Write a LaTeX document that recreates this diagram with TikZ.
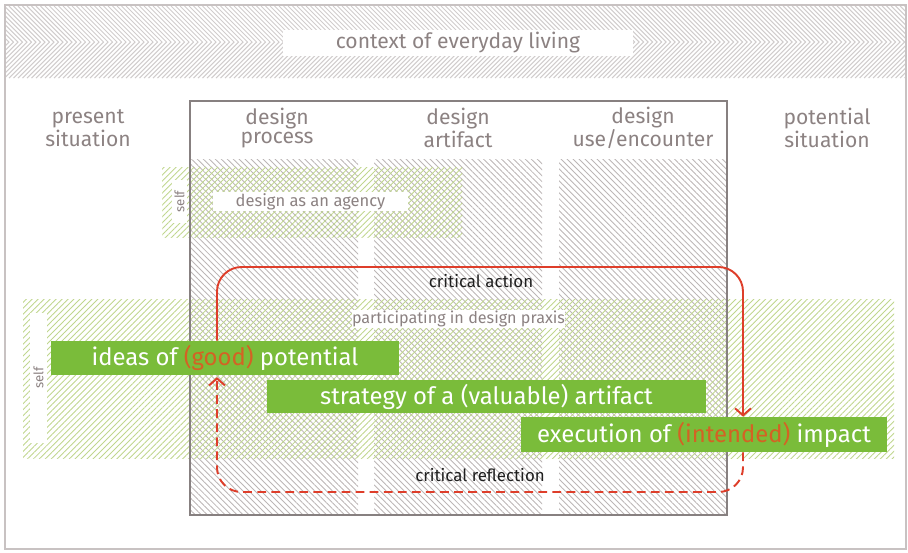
\documentclass[tikz,border=0pt]{standalone}
\usepackage{fontspec}
\setmainfont{Fira Sans}
\usepackage{xcolor}
\usetikzlibrary{arrows.meta, patterns.meta, positioning}
\definecolor{FrameGray}{RGB}{200,194,194}
\definecolor{BandGray}{RGB}{208,204,204}
\definecolor{HatchGray}{RGB}{188,182,182}
\definecolor{BoxGray}{RGB}{135,128,128}
\definecolor{HeadGray}{RGB}{140,130,130}
\definecolor{LeafGreen}{RGB}{122,188,58}
\definecolor{PaleGreen}{RGB}{192,214,142}
\definecolor{SignalRed}{RGB}{222,62,42}
\definecolor{Amber}{RGB}{212,98,36}
\newcommand{\hilite}[1]{\textcolor{Amber}{#1}}

\begin{document}
\begin{tikzpicture}[
  x=0.02cm, y=-0.02cm,
  head/.style={
    align=center,
    text=HeadGray,
    font=\fontsize{12}{11.3}\selectfont
  },
  column/.style={pattern={Lines[angle=-45,distance=2.4pt,line width=0.5pt]}, pattern color=HatchGray},
  sphere/.style={pattern={Lines[angle=45,distance=2.4pt,line width=0.5pt]}, pattern color=PaleGreen},
  tag/.style={fill=white, text=HeadGray, inner sep=0pt},
  bar/.style={fill=LeafGreen, text=white, inner sep=0pt, font=\fontsize{13.6}{14}\selectfont},
  loopnote/.style={text=black!88, font=\fontsize{9.6}{10}\selectfont},
  act/.style={SignalRed, line width=1.1pt, rounded corners=14pt, -{Straight Barb[length=4pt,width=9pt]}},
  refl/.style={act, dash pattern=on 5pt off 3pt}
]
\useasboundingbox (0,0) rectangle (908,552);

% frame and everyday context
\draw[FrameGray, line width=1.2pt] (5,5) rectangle (906,549);
\begin{scope}
  \clip (6,6) rectangle (905,78);
  \foreach \i in {-10,...,202}
    \draw[BandGray, line width=0.6pt] (\i*4.5,6) -- ++(36,36) -- ++(-36,36);
\end{scope}
\node[tag, minimum width=7cm, minimum height=0.52cm,
  font=\fontsize{12}{12}\selectfont] (context) at (458,43) {context of everyday living};

% design columns
\foreach \xa/\xb in {190/358, 374/542, 559/726}
  \path[column] (\xa,159) rectangle (\xb,515);

% self spheres
\path[sphere] (162,167) rectangle (462,237);
\path[sphere] (23,299) rectangle (894,458);

\node[draw=BoxGray, line width=0.9pt, inner sep=0pt,
  minimum width=10.74cm, minimum height=8.28cm] (designbox) at (458.5,308) {};

\node[tag, rotate=90, minimum width=0.86cm, minimum height=0.3cm,
  font=\fontsize{7.5}{8}\selectfont] (selfA) at (179.5,201.5) {self};
\node[tag, rotate=90, minimum width=2.6cm, minimum height=0.34cm,
  font=\fontsize{7.5}{8}\selectfont] (selfB) at (38.5,378) {self};
\node[tag, minimum width=3.9cm, minimum height=0.38cm,
  font=\fontsize{9.4}{9}\selectfont] (agency) at (310.5,201.5) {design as an agency};
\node[tag, minimum width=4.26cm, minimum height=0.36cm,
  font=\fontsize{9.2}{9}\selectfont] (praxis) at (458.5,319) {participating in design praxis};

% headers
\node[head] (present) at (88,128) {present\\situation};
\node[head] (process) at (277,128) {design\\process};
\node[head] (artifact) at (458,128) {design\\artifact};
\node[head] (encounter) at (643,128) {design\\use/encounter};
\node[head] (potential) at (827,128) {potential\\situation};

% bars
\node[bar, minimum width=6.96cm, minimum height=0.68cm] (ideas) at (225,358)
  {ideas of \hilite{(good)} potential};
\node[bar, minimum width=8.78cm, minimum height=0.66cm] (strategy) at (486.5,396.5)
  {strategy of a (valuable) artifact};
\node[bar, minimum width=7.32cm, minimum height=0.70cm] (execution) at (704,434.5)
  {execution of \hilite{(intended)} impact};

% critical loop
\coordinate (loopL) at (217,0);
\coordinate (loopR) at (743,0);
\coordinate (actY) at (0,267);
\coordinate (reflY) at (0,492);

\draw[act] (ideas.north -| loopL) |- (actY -| loopR) -- (execution.north -| loopR);
\draw[refl, shorten >=1pt] (execution.south -| loopR) |- (reflY -| loopL) -- (ideas.south -| loopL);

\node[loopnote] (actnote) at (481,281) {critical action};
\node[loopnote] (reflnote) at (480,475) {critical reflection};

\end{tikzpicture}
\end{document}
